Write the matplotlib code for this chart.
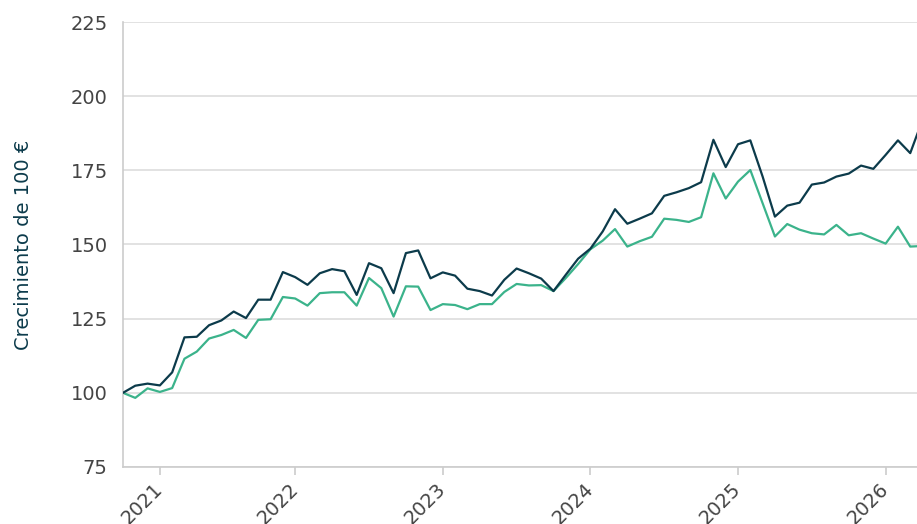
import matplotlib
matplotlib.use("Agg")
import matplotlib.pyplot as plt

# monthly points, index based axis (2021 has one month fewer in the source)
years = ["2021", "2022", "2023", "2024", "2025", "2026"]
points_per_year = [3, 11, 12, 12, 12, 12, 4]  # 2020 tail, 2021..2025, 2026 head

dark_line = [100.0, 102.4, 103.1, 102.5, 106.9, 118.7, 118.9, 122.8, 124.4, 127.4,
             125.2, 131.4, 131.4, 140.7, 139.0, 136.4, 140.3, 141.7, 141.0, 133.0,
             143.7, 142.0, 133.6, 147.1, 148.0, 138.6, 140.6, 139.5, 135.1, 134.3,
             132.8, 138.1, 141.9, 140.3, 138.5, 134.3, 139.8, 145.2, 148.6, 154.4,
             161.9, 157.0, 158.7, 160.5, 166.4, 167.6, 169.0, 171.0, 185.3, 176.1,
             183.8, 185.1, 172.9, 159.4, 163.1, 164.1, 170.2, 170.9, 172.9, 173.9,
             176.6, 175.5, 180.2, 185.1, 180.8, 192.0]

green_line = [100.0, 98.3, 101.5, 100.3, 101.6, 111.5, 113.9, 118.3, 119.5, 121.2,
              118.5, 124.6, 124.8, 132.3, 131.8, 129.4, 133.6, 133.9, 133.9, 129.4,
              138.7, 135.3, 125.7, 135.9, 135.8, 127.9, 129.9, 129.6, 128.2, 129.9,
              129.9, 134.0, 136.7, 136.2, 136.3, 134.3, 138.7, 143.4, 148.4, 151.3,
              155.2, 149.3, 151.1, 152.6, 158.7, 158.3, 157.6, 159.2, 174.0, 165.5,
              171.2, 175.1, 163.9, 152.7, 156.9, 155.0, 153.8, 153.4, 156.6, 153.1,
              153.8, 152.0, 150.3, 156.0, 149.3, 149.5]

x = list(range(len(dark_line)))

# index of the first point of each year
tick_pos = [sum(points_per_year[:i + 1]) for i in range(len(years))]

fig = plt.figure(figsize=(9.17, 5.24), dpi=100)
ax = fig.add_axes([0.1341, 0.1088, 0.8659, 0.8492])

ax.plot(x, dark_line, color="#0c3b4b", lw=1.6, zorder=3)
ax.plot(x, green_line, color="#3bb38b", lw=1.6, zorder=2)

ax.set_xlim(0, 64.55)
ax.set_ylim(75, 225)
ax.set_yticks(range(75, 226, 25))
ax.set_xticks(tick_pos)
ax.set_xticklabels(years, rotation=45, ha="right", va="center",
                   rotation_mode="anchor")

ax.grid(axis="y", color="#dddddd", lw=1.2)
ax.set_axisbelow(True)
for s in ["top", "right"]:
    ax.spines[s].set_visible(False)
for s in ["left", "bottom"]:
    ax.spines[s].set_color("#cccccc")
    ax.spines[s].set_linewidth(1.2)

ax.tick_params(axis="y", length=0, pad=11, labelsize=14, labelcolor="#444444")
ax.tick_params(axis="x", length=6, width=1.2, color="#cccccc", pad=8,
               labelsize=14, labelcolor="#444444")

ax.set_ylabel("Crecimiento de 100 €", fontsize=14, color="#0c3b4b", labelpad=27)

fig.savefig("out.png", dpi=100)
